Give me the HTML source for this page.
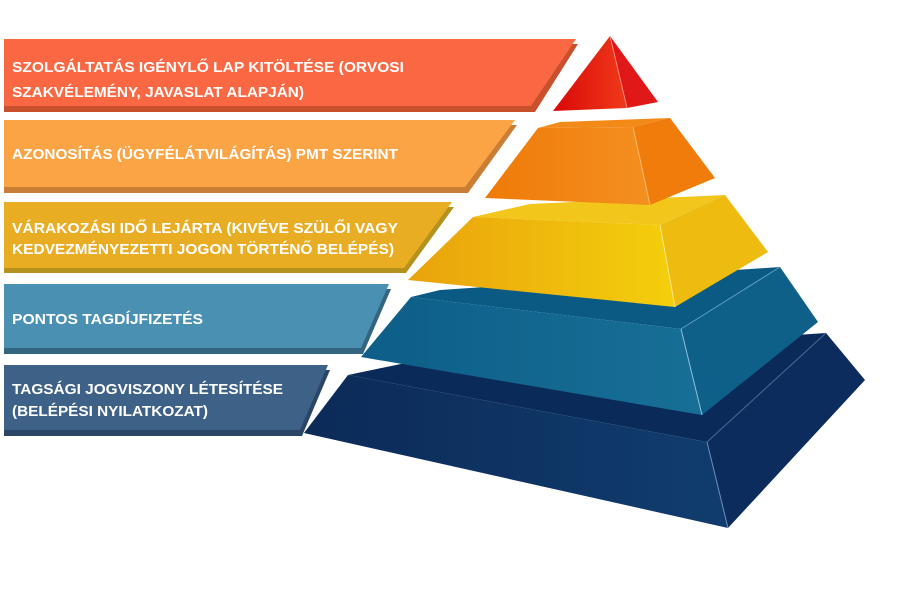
<!DOCTYPE html>
<html><head><meta charset="utf-8"><style>
html,body{margin:0;padding:0;background:#fff;width:900px;height:600px;overflow:hidden}
text{font-family:"Liberation Sans",sans-serif;font-weight:bold;fill:#fff;font-size:15px}
</style></head><body>
<svg width="900" height="600" viewBox="0 0 900 600" xmlns="http://www.w3.org/2000/svg">
<defs>
<linearGradient id="red" x1="0" x2="1"><stop offset="0" stop-color="#d80808"/><stop offset="1" stop-color="#f03a1a"/></linearGradient>
<linearGradient id="org" x1="0" x2="1"><stop offset="0" stop-color="#f07a08"/><stop offset="1" stop-color="#f39020"/></linearGradient>
<linearGradient id="yel" x1="0" x2="1"><stop offset="0" stop-color="#e9a30c"/><stop offset="1" stop-color="#f4cf0c"/></linearGradient>
<linearGradient id="blu" x1="0" x2="1"><stop offset="0" stop-color="#0d5e88"/><stop offset="1" stop-color="#176f96"/></linearGradient>
<linearGradient id="nav" x1="0" x2="1"><stop offset="0" stop-color="#0c2a58"/><stop offset="1" stop-color="#103d6e"/></linearGradient>
</defs>
<!-- bands -->
<polygon points="4,44 578,44 535,112 4,112" fill="#c9502c"/>
<polygon points="4,39 576,39 531,106 4,106" fill="#fa6843"/>
<polygon points="4,125 517,125 468,193 4,193" fill="#c97d35"/>
<polygon points="4,120 515,120 465,187 4,187" fill="#fba445"/>
<polygon points="4,207 454,207 406,273 4,273" fill="#b5911e"/>
<polygon points="4,202 452,202 404,268 4,268" fill="#e9ad24"/>
<polygon points="4,289 391,289 363,354 4,354" fill="#33657f"/>
<polygon points="4,284 389,284 361,348 4,348" fill="#4a90b2"/>
<polygon points="4,370 330,370 302,436 4,436" fill="#2a4566"/>
<polygon points="4,365 328,365 300,430 4,430" fill="#3e6188"/>
<text x="12" y="72" textLength="392" lengthAdjust="spacingAndGlyphs">SZOLGÁLTATÁS IGÉNYLŐ LAP KITÖLTÉSE (ORVOSI</text>
<text x="12" y="97" textLength="292" lengthAdjust="spacingAndGlyphs">SZAKVÉLEMÉNY, JAVASLAT ALAPJÁN)</text>
<text x="12" y="159" textLength="386" lengthAdjust="spacingAndGlyphs">AZONOSÍTÁS (ÜGYFÉLÁTVILÁGÍTÁS) PMT SZERINT</text>
<text x="12" y="233" textLength="386" lengthAdjust="spacingAndGlyphs">VÁRAKOZÁSI IDŐ LEJÁRTA (KIVÉVE SZÜLŐI VAGY</text>
<text x="12" y="254" textLength="382" lengthAdjust="spacingAndGlyphs">KEDVEZMÉNYEZETTI JOGON TÖRTÉNŐ BELÉPÉS)</text>
<text x="12" y="324" textLength="191" lengthAdjust="spacingAndGlyphs">PONTOS TAGDÍJFIZETÉS</text>
<text x="12" y="394" textLength="271" lengthAdjust="spacingAndGlyphs">TAGSÁGI JOGVISZONY LÉTESÍTÉSE</text>
<text x="12" y="416" textLength="196" lengthAdjust="spacingAndGlyphs">(BELÉPÉSI NYILATKOZAT)</text>
<!-- pyramid: navy -->
<polygon points="348,375 420,360 826,333 707,442" fill="#0a2a5a"/>
<polygon points="348,375 707,442 728,528 304,433" fill="url(#nav)"/>
<polygon points="707,442 826,333 865,380 728,528" fill="#0b2c5c"/>
<line x1="707" y1="442" x2="728" y2="528" stroke="#6f8fb8" stroke-width="1"/>
<line x1="707" y1="442" x2="826" y2="333" stroke="#4a6a9a" stroke-width="1"/>
<!-- blue -->
<polygon points="411,297 440,290 780,267 681,329" fill="#0b5a84"/>
<polygon points="411,297 681,329 702,415 361,357" fill="url(#blu)"/>
<polygon points="681,329 780,267 818,322 702,415" fill="#0f6088"/>
<line x1="681" y1="329" x2="702" y2="415" stroke="#8fc0dc" stroke-width="1"/>
<line x1="681" y1="329" x2="780" y2="267" stroke="#5c9cc0" stroke-width="1"/>
<!-- yellow -->
<polygon points="473,217 530,204 725,195 660,225" fill="#f2c61a"/>
<polygon points="473,217 660,225 675,307 408,280" fill="url(#yel)"/>
<polygon points="660,225 725,195 768,252 675,307" fill="#eebb10"/>
<line x1="660" y1="225" x2="675" y2="307" stroke="#fbe68a" stroke-width="1"/>
<!-- orange -->
<polygon points="538,128 560,122 670,118 633,127" fill="#f38a18"/>
<polygon points="538,128 633,127 650,205 485,198" fill="url(#org)"/>
<polygon points="633,127 670,118 715,178 650,205" fill="#f07c0c"/>
<line x1="633" y1="127" x2="650" y2="205" stroke="#fbb870" stroke-width="1"/>
<!-- red -->
<polygon points="610,36 627,108 553,111" fill="url(#red)"/>
<polygon points="610,36 658,102 627,108" fill="#e01818"/>
<line x1="610" y1="36" x2="627" y2="108" stroke="#f88a7a" stroke-width="1"/>
</svg>
</body></html>
